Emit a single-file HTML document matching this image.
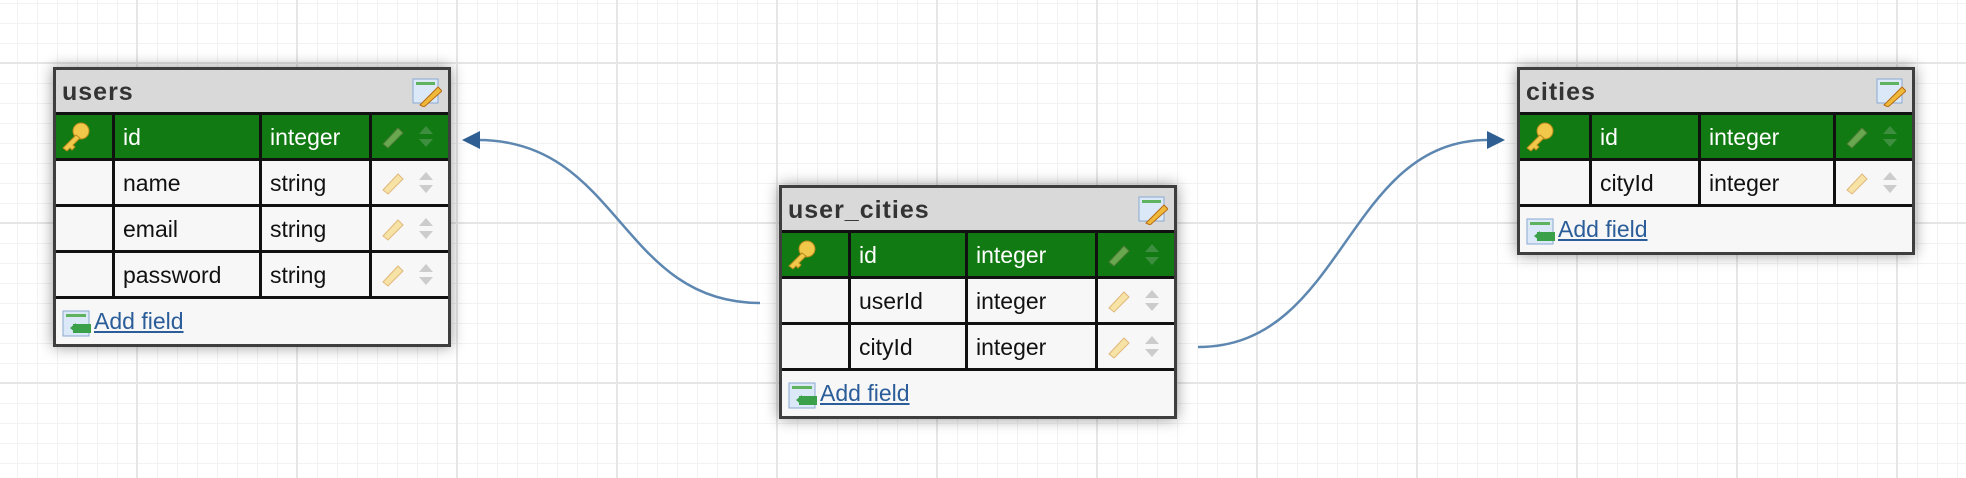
<!DOCTYPE html>
<html><head><meta charset="utf-8"><style>
html,body{margin:0;padding:0}
body{width:1966px;height:478px;overflow:hidden;position:relative;font-family:"Liberation Sans",sans-serif;
background-color:#fff;
background-image:
linear-gradient(to right,#e6e6e6 2px,transparent 2px),
linear-gradient(to bottom,#e6e6e6 2px,transparent 2px),
linear-gradient(to right,#f2f2f2 1px,transparent 1px),
linear-gradient(to bottom,#f2f2f2 1px,transparent 1px);
background-size:160px 160px,160px 160px,20px 20px,20px 20px;
background-position:136px 0,0 62px,17px 0,0 3px;}
.tbl{position:absolute;width:392px;border:3px solid #3e3e3e;background:#f7f7f7;box-shadow:0 0 14px rgba(0,0,0,.4)}
.hdr{height:42px;background:#d9d9d9;border-bottom:3px solid #111;position:relative;font-weight:bold;font-size:25px;color:#333;letter-spacing:1px;line-height:44px;padding-left:6px}
.row{height:43px;border-bottom:3px solid #111;display:flex;font-size:23px;color:#111;line-height:45px}
.row.pk{background:#117a12;color:#fff}
.c{border-right:3px solid #111;box-sizing:border-box;padding-left:8px;position:relative;height:43px}
.c:last-child{border-right:none;flex:1}
.ft{height:45px;position:relative}
.ft a{position:absolute;left:38px;top:9px;font-size:23px;color:#2a5d99;text-decoration:underline}
.ticon{position:absolute;right:6px;top:7px}
.ficon{position:absolute;left:6px;top:11px}
.key{position:absolute;left:2px;top:6px}
.pen{position:absolute;left:8px;top:8px}
.ud{position:absolute;left:46px;top:10px}
</style></head><body>

<svg width="1966" height="478" style="position:absolute;left:0;top:0;z-index:0">
<path d="M478 140 C620 140 620 303 760 303" fill="none" stroke="#5d87b0" stroke-width="2.5"/>
<polygon points="462,140 480,131 480,149" fill="#2f5f92"/>
<path d="M1198 347 C1345 347 1345 140 1488 140" fill="none" stroke="#5d87b0" stroke-width="2.5"/>
<polygon points="1505,140 1487,131 1487,149" fill="#2f5f92"/>
</svg>

<div class="tbl" style="left:53px;top:67px">
 <div class="hdr">users<svg class="ticon" width="30" height="30"><rect x="1" y="2" width="25" height="24" fill="#dbe8f7" stroke="#8aa9d0"/><rect x="4" y="5" width="19" height="3" fill="#5fb35f"/><path d="M8 28 L26 10 L30 14 L12 30 Z" fill="#f0b93a" stroke="#b56c17"/></svg></div>
 <div class="row pk"><div class="c" style="width:59px"><svg class="key" width="34" height="32"><circle cx="23" cy="10" r="8" fill="#f2c84b" stroke="#b98a1c"/><path d="M18 14 L5 27 L9 30 L12 27 L14 29 L17 26 L15 24 L22 17 Z" fill="#f2c84b" stroke="#b98a1c"/></svg></div><div class="c" style="width:147px">id</div><div class="c" style="width:110px">integer</div><div class="c"><svg class="pen" width="26" height="26"><path d="M3 21 L18 5 L23 10 L8 25 Z" fill="#6aa84f" stroke="#4d7a37"/></svg><svg class="ud" width="16" height="24"><polygon points="8,1 15,9 1,9" fill="#3d8f3f"/><polygon points="8,22 15,14 1,14" fill="#3d8f3f"/></svg></div></div>
 <div class="row"><div class="c" style="width:59px"></div><div class="c" style="width:147px">name</div><div class="c" style="width:110px">string</div><div class="c"><svg class="pen" width="26" height="26"><path d="M3 21 L18 5 L23 10 L8 25 Z" fill="#f6e3a5" stroke="#e0b77a"/></svg><svg class="ud" width="16" height="24"><polygon points="8,1 15,9 1,9" fill="#ccc"/><polygon points="8,22 15,14 1,14" fill="#ccc"/></svg></div></div>
 <div class="row"><div class="c" style="width:59px"></div><div class="c" style="width:147px">email</div><div class="c" style="width:110px">string</div><div class="c"><svg class="pen" width="26" height="26"><path d="M3 21 L18 5 L23 10 L8 25 Z" fill="#f6e3a5" stroke="#e0b77a"/></svg><svg class="ud" width="16" height="24"><polygon points="8,1 15,9 1,9" fill="#ccc"/><polygon points="8,22 15,14 1,14" fill="#ccc"/></svg></div></div>
 <div class="row"><div class="c" style="width:59px"></div><div class="c" style="width:147px">password</div><div class="c" style="width:110px">string</div><div class="c"><svg class="pen" width="26" height="26"><path d="M3 21 L18 5 L23 10 L8 25 Z" fill="#f6e3a5" stroke="#e0b77a"/></svg><svg class="ud" width="16" height="24"><polygon points="8,1 15,9 1,9" fill="#ccc"/><polygon points="8,22 15,14 1,14" fill="#ccc"/></svg></div></div>
 <div class="ft"><svg class="ficon" width="30" height="28"><rect x="1" y="1" width="26" height="25" fill="#dbe8f7" stroke="#8aa9d0"/><rect x="4" y="4" width="20" height="3" fill="#5fb35f"/><rect x="11" y="14" width="18" height="9" fill="#3aa04a"/><polygon points="8,18 14,13 14,23" fill="#3aa04a"/></svg><a>Add field</a></div>
</div>

<div class="tbl" style="left:779px;top:185px">
 <div class="hdr">user_cities<svg class="ticon" width="30" height="30"><rect x="1" y="2" width="25" height="24" fill="#dbe8f7" stroke="#8aa9d0"/><rect x="4" y="5" width="19" height="3" fill="#5fb35f"/><path d="M8 28 L26 10 L30 14 L12 30 Z" fill="#f0b93a" stroke="#b56c17"/></svg></div>
 <div class="row pk"><div class="c" style="width:69px"><svg class="key" width="34" height="32"><circle cx="23" cy="10" r="8" fill="#f2c84b" stroke="#b98a1c"/><path d="M18 14 L5 27 L9 30 L12 27 L14 29 L17 26 L15 24 L22 17 Z" fill="#f2c84b" stroke="#b98a1c"/></svg></div><div class="c" style="width:117px">id</div><div class="c" style="width:130px">integer</div><div class="c"><svg class="pen" width="26" height="26"><path d="M3 21 L18 5 L23 10 L8 25 Z" fill="#6aa84f" stroke="#4d7a37"/></svg><svg class="ud" width="16" height="24"><polygon points="8,1 15,9 1,9" fill="#3d8f3f"/><polygon points="8,22 15,14 1,14" fill="#3d8f3f"/></svg></div></div>
 <div class="row"><div class="c" style="width:69px"></div><div class="c" style="width:117px">userId</div><div class="c" style="width:130px">integer</div><div class="c"><svg class="pen" width="26" height="26"><path d="M3 21 L18 5 L23 10 L8 25 Z" fill="#f6e3a5" stroke="#e0b77a"/></svg><svg class="ud" width="16" height="24"><polygon points="8,1 15,9 1,9" fill="#ccc"/><polygon points="8,22 15,14 1,14" fill="#ccc"/></svg></div></div>
 <div class="row"><div class="c" style="width:69px"></div><div class="c" style="width:117px">cityId</div><div class="c" style="width:130px">integer</div><div class="c"><svg class="pen" width="26" height="26"><path d="M3 21 L18 5 L23 10 L8 25 Z" fill="#f6e3a5" stroke="#e0b77a"/></svg><svg class="ud" width="16" height="24"><polygon points="8,1 15,9 1,9" fill="#ccc"/><polygon points="8,22 15,14 1,14" fill="#ccc"/></svg></div></div>
 <div class="ft"><svg class="ficon" width="30" height="28"><rect x="1" y="1" width="26" height="25" fill="#dbe8f7" stroke="#8aa9d0"/><rect x="4" y="4" width="20" height="3" fill="#5fb35f"/><rect x="11" y="14" width="18" height="9" fill="#3aa04a"/><polygon points="8,18 14,13 14,23" fill="#3aa04a"/></svg><a>Add field</a></div>
</div>

<div class="tbl" style="left:1517px;top:67px">
 <div class="hdr">cities<svg class="ticon" width="30" height="30"><rect x="1" y="2" width="25" height="24" fill="#dbe8f7" stroke="#8aa9d0"/><rect x="4" y="5" width="19" height="3" fill="#5fb35f"/><path d="M8 28 L26 10 L30 14 L12 30 Z" fill="#f0b93a" stroke="#b56c17"/></svg></div>
 <div class="row pk"><div class="c" style="width:72px"><svg class="key" width="34" height="32"><circle cx="23" cy="10" r="8" fill="#f2c84b" stroke="#b98a1c"/><path d="M18 14 L5 27 L9 30 L12 27 L14 29 L17 26 L15 24 L22 17 Z" fill="#f2c84b" stroke="#b98a1c"/></svg></div><div class="c" style="width:109px">id</div><div class="c" style="width:135px">integer</div><div class="c"><svg class="pen" width="26" height="26"><path d="M3 21 L18 5 L23 10 L8 25 Z" fill="#6aa84f" stroke="#4d7a37"/></svg><svg class="ud" width="16" height="24"><polygon points="8,1 15,9 1,9" fill="#3d8f3f"/><polygon points="8,22 15,14 1,14" fill="#3d8f3f"/></svg></div></div>
 <div class="row"><div class="c" style="width:72px"></div><div class="c" style="width:109px">cityId</div><div class="c" style="width:135px">integer</div><div class="c"><svg class="pen" width="26" height="26"><path d="M3 21 L18 5 L23 10 L8 25 Z" fill="#f6e3a5" stroke="#e0b77a"/></svg><svg class="ud" width="16" height="24"><polygon points="8,1 15,9 1,9" fill="#ccc"/><polygon points="8,22 15,14 1,14" fill="#ccc"/></svg></div></div>
 <div class="ft"><svg class="ficon" width="30" height="28"><rect x="1" y="1" width="26" height="25" fill="#dbe8f7" stroke="#8aa9d0"/><rect x="4" y="4" width="20" height="3" fill="#5fb35f"/><rect x="11" y="14" width="18" height="9" fill="#3aa04a"/><polygon points="8,18 14,13 14,23" fill="#3aa04a"/></svg><a>Add field</a></div>
</div>
</body></html>
